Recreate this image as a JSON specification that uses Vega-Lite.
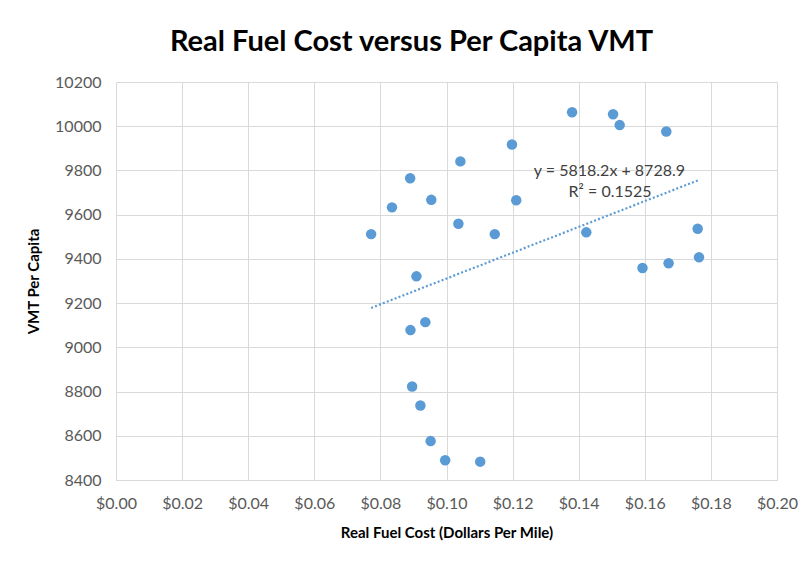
{
  "$schema": "https://vega.github.io/schema/vega-lite/v6.json",
  "autosize": "none",
  "width": 661,
  "height": 398,
  "padding": {"left": 116, "top": 82, "right": 30, "bottom": 83},
  "background": "white",
  "title": {
    "text": "Real Fuel Cost versus Per Capita VMT",
    "font": "Lato",
    "fontSize": 29,
    "fontWeight": "bold",
    "color": "#000000",
    "anchor": "middle",
    "dx": -35,
    "offset": 17
  },
  "config": {
    "view": {"stroke": null},
    "axis": {
      "labelFont": "Lato",
      "labelFontSize": 16,
      "labelColor": "#595959",
      "titleFont": "Lato",
      "titleFontSize": 15,
      "titleFontWeight": "bold",
      "titleColor": "#000000",
      "gridColor": "#d9d9d9",
      "gridWidth": 1,
      "ticks": false
    }
  },
  "datasets": {
    "points": [
      {"cost": 0.1380, "vmt": 10063},
      {"cost": 0.1504, "vmt": 10054},
      {"cost": 0.1524, "vmt": 10005},
      {"cost": 0.1665, "vmt": 9976},
      {"cost": 0.1198, "vmt": 9917},
      {"cost": 0.1042, "vmt": 9841},
      {"cost": 0.0890, "vmt": 9765},
      {"cost": 0.0835, "vmt": 9633},
      {"cost": 0.0954, "vmt": 9667},
      {"cost": 0.1211, "vmt": 9665},
      {"cost": 0.0772, "vmt": 9512},
      {"cost": 0.1036, "vmt": 9559},
      {"cost": 0.1146, "vmt": 9512},
      {"cost": 0.1423, "vmt": 9520},
      {"cost": 0.1760, "vmt": 9536},
      {"cost": 0.1764, "vmt": 9407},
      {"cost": 0.1593, "vmt": 9359},
      {"cost": 0.1672, "vmt": 9380},
      {"cost": 0.0909, "vmt": 9321},
      {"cost": 0.0936, "vmt": 9114},
      {"cost": 0.0891, "vmt": 9078},
      {"cost": 0.0896, "vmt": 8823},
      {"cost": 0.0921, "vmt": 8737},
      {"cost": 0.0952, "vmt": 8576},
      {"cost": 0.0996, "vmt": 8489},
      {"cost": 0.1102, "vmt": 8483}
    ],
    "labels": [
      {"cost": 0.1493, "vmt": 9798, "label": "y = 5818.2x + 8728.9"},
      {"cost": 0.1495, "vmt": 9703, "label": "R² = 0.1525"}
    ]
  },
  "layer": [
    {
      "data": {"name": "points"},
      "mark": {"type": "point", "filled": true, "opacity": 1, "size": 110, "color": "#5B9BD5"},
      "encoding": {
        "x": {
          "field": "cost", "type": "quantitative",
          "scale": {"domain": [0, 0.2], "nice": false, "zero": false},
          "axis": {
            "values": [0, 0.02, 0.04, 0.06, 0.08, 0.1, 0.12, 0.14, 0.16, 0.18, 0.2],
            "format": "$.2f",
            "title": "Real Fuel Cost (Dollars Per Mile)",
            "titlePadding": 14,
            "labelPadding": 15,
            "domainColor": "#d9d9d9",
            "labelFlush": false
          }
        },
        "y": {
          "field": "vmt", "type": "quantitative",
          "scale": {"domain": [8400, 10200], "nice": false, "zero": false},
          "axis": {
            "values": [8400, 8600, 8800, 9000, 9200, 9400, 9600, 9800, 10000, 10200],
            "format": "d",
            "title": "VMT Per Capita",
            "titlePadding": 13,
            "labelPadding": 15,
            "domain": false
          }
        }
      }
    },
    {
      "data": {"name": "points"},
      "transform": [{"regression": "vmt", "on": "cost"}],
      "mark": {"type": "line", "color": "#5B9BD5", "strokeWidth": 2.2, "strokeDash": [2, 2.2], "strokeCap": "butt"},
      "encoding": {
        "x": {"field": "cost", "type": "quantitative"},
        "y": {"field": "vmt", "type": "quantitative"}
      }
    },
    {
      "data": {"name": "labels"},
      "mark": {"type": "text", "font": "Lato", "fontSize": 16, "color": "#404040", "align": "center", "baseline": "middle"},
      "encoding": {
        "x": {"field": "cost", "type": "quantitative"},
        "y": {"field": "vmt", "type": "quantitative"},
        "text": {"field": "label"}
      }
    }
  ]
}
